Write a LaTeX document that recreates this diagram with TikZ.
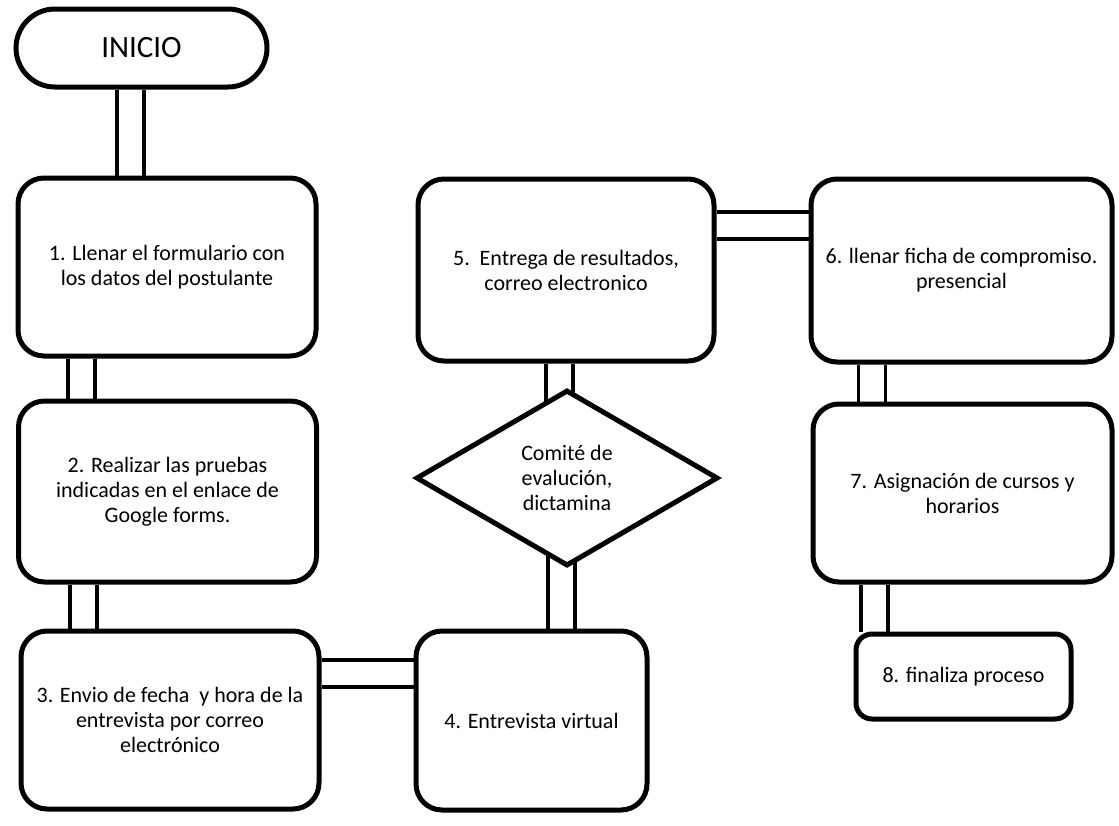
\documentclass[tikz,border=0pt]{standalone}
\usepackage{fontspec}
\setmainfont{Carlito}
\usetikzlibrary{shapes.geometric,backgrounds}
\begin{document}
\begin{tikzpicture}[x=1pt,y=-1pt,
  box/.style={draw, line width=5pt, rounded corners=26pt, fill=white, align=center,
    font=\fontsize{22}{25}\selectfont, inner sep=0pt},
  decision/.style={draw, diamond, aspect=1.7, line width=5pt, fill=white, align=center,
    font=\fontsize{22}{25}\selectfont, inner sep=0pt},
  pipe/.style={draw, line width=3.5pt, double distance=23.5pt, double=white},
  ]
\useasboundingbox (0,0) rectangle (1119,825);
\node[box, rounded corners=39pt, minimum width=251pt, minimum height=78pt,
  font=\fontsize{31}{36}\selectfont] (inicio) at (141.5,48) {INICIO};
\node[box, minimum width=298pt, minimum height=178pt] (n1) at (167,267)
  {1. Llenar el formulario con\\los datos del postulante};
\node[box, minimum width=298pt, minimum height=181pt] (n2) at (167.5,491.5)
  {2. Realizar las pruebas\\indicadas en el enlace de\\Google forms.};
\node[box, minimum width=298pt, minimum height=178pt] (n3) at (170,720)
  {3. Envio de fecha\ \ y hora de la\\entrevista por correo\\electrónico};
\node[box, minimum width=231pt, minimum height=179pt] (n4) at (531.5,720.5)
  {4. Entrevista virtual};
\node[decision, minimum width=302pt, minimum height=176pt] (dia) at (567,478)
  {Comité de\\evalución,\\dictamina};
\node[box, minimum width=296pt, minimum height=182pt] (n5) at (566,270)
  {5.\ \ Entrega de resultados,\\correo electronico};
\node[box, minimum width=301pt, minimum height=183pt] (n6) at (961.5,270.5)
  {6. llenar ficha de compromiso.\\presencial};
\node[box, minimum width=299pt, minimum height=178pt] (n7) at (962.5,493)
  {7. Asignación de cursos y\\horarios};
\node[box, rounded corners=16pt, minimum width=215pt, minimum height=85pt] (n8) at (963.5,676.5)
  {8. finaliza proceso};
\begin{scope}[on background layer]
\draw[pipe] ([xshift=-11pt]inicio.south) -- ([xshift=-11pt]inicio.south |- n1.north);
\draw[pipe] ([xshift=-85.5pt]n1.south) -- ([xshift=-85.5pt]n1.south |- n2.north);
\draw[pipe] ([xshift=-84pt]n2.south) -- ([xshift=-84pt]n2.south |- n3.north);
\draw[pipe] ([yshift=46.5pt]n3.east) -- ([yshift=46.5pt]n3.east -| n4.west);
\draw[pipe] ([xshift=30pt]n4.north) -- ([xshift=30pt]n4.north |- dia.center);
\draw[pipe] ([xshift=-6.5pt]n5.south) -- ([xshift=-6.5pt]n5.south |- dia.center);
\draw[pipe] ([yshift=44.5pt]n5.east) -- ([yshift=44.5pt]n5.east -| n6.west);
\draw[pipe] ([xshift=-89.5pt]n6.south) -- ([xshift=-89.5pt]n6.south |- n7.north);
\draw[pipe] ([xshift=-88pt]n7.south) -- ([xshift=-88pt]n7.south |- n8.north);
\end{scope}
\end{tikzpicture}
\end{document}
